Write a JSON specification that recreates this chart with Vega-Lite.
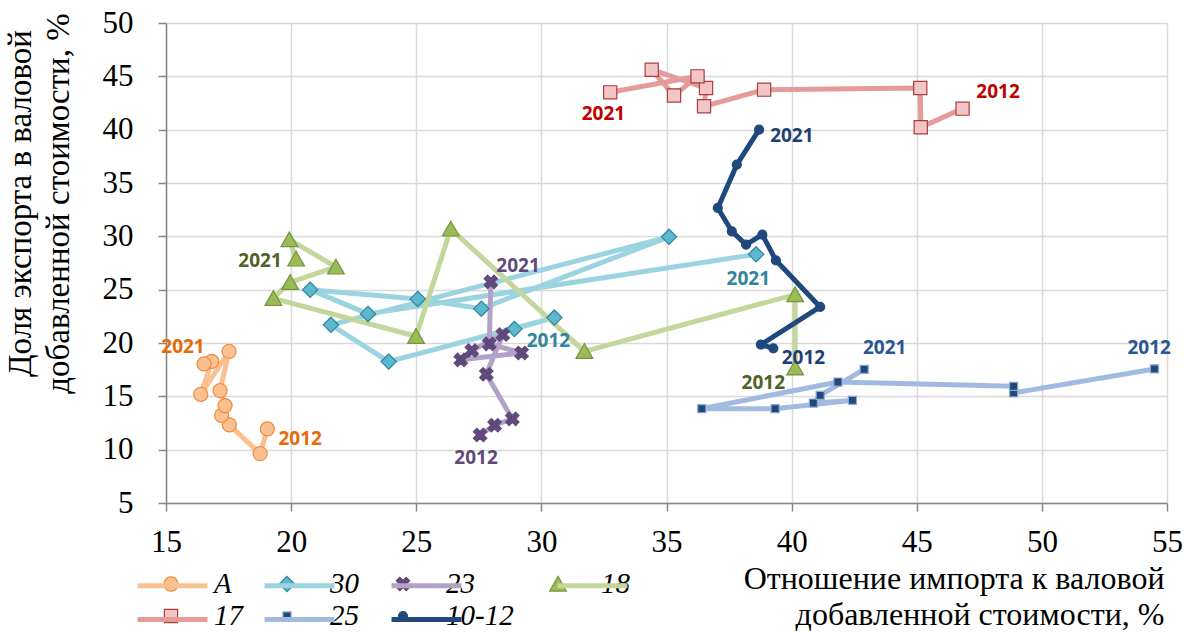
{
  "$schema": "https://vega.github.io/schema/vega-lite/v6.json",
  "width": 1001,
  "height": 480,
  "autosize": {"type": "none"},
  "padding": {"left": 166, "top": 23, "right": 19, "bottom": 129},
  "background": "white",
  "config": {
    "view": {"stroke": null},
    "axis": {
      "labelFont": "Liberation Serif", "labelFontSize": 31, "labelColor": "#000000",
      "titleFont": "Liberation Serif", "titleFontWeight": "normal", "titleColor": "#000000",
      "grid": true, "gridColor": "#D9D9D9", "gridWidth": 1.5,
      "domainColor": "#868686", "domainWidth": 1.5,
      "tickColor": "#868686", "tickSize": 8, "tickWidth": 1.5, "labelFlush": false
    },
    "axisX": {"labelPadding": 16},
    "axisY": {"labelPadding": 25},
    "legend": {
      "labelFont": "Liberation Serif", "labelFontStyle": "italic", "labelFontSize": 29, "labelColor": "#000000"
    }
  },
  "datasets": {
    "pts": [
      {"series": "A", "ord": 1, "year": 2012, "x": 19.05, "y": 11.95},
      {"series": "A", "ord": 1, "year": 2013, "x": 18.76, "y": 9.63},
      {"series": "A", "ord": 1, "year": 2014, "x": 17.53, "y": 12.32},
      {"series": "A", "ord": 1, "year": 2015, "x": 17.22, "y": 13.22},
      {"series": "A", "ord": 1, "year": 2016, "x": 17.36, "y": 14.13},
      {"series": "A", "ord": 1, "year": 2017, "x": 17.16, "y": 15.54},
      {"series": "A", "ord": 1, "year": 2018, "x": 17.52, "y": 19.22},
      {"series": "A", "ord": 1, "year": 2019, "x": 16.39, "y": 15.19},
      {"series": "A", "ord": 1, "year": 2020, "x": 16.83, "y": 18.28},
      {"series": "A", "ord": 1, "year": 2021, "x": 16.52, "y": 18.04},
      {"series": "30", "ord": 2, "year": 2012, "x": 28.92, "y": 21.32},
      {"series": "30", "ord": 2, "year": 2013, "x": 30.52, "y": 22.38},
      {"series": "30", "ord": 2, "year": 2014, "x": 23.9, "y": 18.26},
      {"series": "30", "ord": 2, "year": 2015, "x": 21.59, "y": 21.7},
      {"series": "30", "ord": 2, "year": 2016, "x": 35.1, "y": 29.95},
      {"series": "30", "ord": 2, "year": 2017, "x": 27.6, "y": 23.22},
      {"series": "30", "ord": 2, "year": 2018, "x": 25.06, "y": 24.13},
      {"series": "30", "ord": 2, "year": 2019, "x": 20.76, "y": 25.0},
      {"series": "30", "ord": 2, "year": 2020, "x": 23.07, "y": 22.73},
      {"series": "30", "ord": 2, "year": 2021, "x": 38.58, "y": 28.31},
      {"series": "23", "ord": 3, "year": 2012, "x": 27.55, "y": 11.38},
      {"series": "23", "ord": 3, "year": 2013, "x": 28.13, "y": 12.29},
      {"series": "23", "ord": 3, "year": 2014, "x": 28.84, "y": 12.89},
      {"series": "23", "ord": 3, "year": 2015, "x": 27.8, "y": 17.07},
      {"series": "23", "ord": 3, "year": 2016, "x": 28.46, "y": 20.79},
      {"series": "23", "ord": 3, "year": 2017, "x": 27.22, "y": 19.29},
      {"series": "23", "ord": 3, "year": 2018, "x": 26.78, "y": 18.42},
      {"series": "23", "ord": 3, "year": 2019, "x": 29.21, "y": 19.07},
      {"series": "23", "ord": 3, "year": 2020, "x": 27.92, "y": 19.92},
      {"series": "23", "ord": 3, "year": 2021, "x": 27.98, "y": 25.73},
      {"series": "18", "ord": 4, "year": 2012, "x": 40.14, "y": 17.67},
      {"series": "18", "ord": 4, "year": 2013, "x": 40.14, "y": 24.54},
      {"series": "18", "ord": 4, "year": 2014, "x": 31.72, "y": 19.22},
      {"series": "18", "ord": 4, "year": 2015, "x": 26.38, "y": 30.69},
      {"series": "18", "ord": 4, "year": 2016, "x": 24.99, "y": 20.63},
      {"series": "18", "ord": 4, "year": 2017, "x": 19.29, "y": 24.19},
      {"series": "18", "ord": 4, "year": 2018, "x": 19.96, "y": 25.69},
      {"series": "18", "ord": 4, "year": 2019, "x": 21.79, "y": 27.13},
      {"series": "18", "ord": 4, "year": 2020, "x": 19.93, "y": 29.69},
      {"series": "18", "ord": 4, "year": 2021, "x": 20.2, "y": 27.88},
      {"series": "17", "ord": 5, "year": 2012, "x": 46.83, "y": 41.97},
      {"series": "17", "ord": 5, "year": 2013, "x": 45.16, "y": 40.22},
      {"series": "17", "ord": 5, "year": 2014, "x": 45.14, "y": 43.9},
      {"series": "17", "ord": 5, "year": 2015, "x": 38.9, "y": 43.75},
      {"series": "17", "ord": 5, "year": 2016, "x": 36.5, "y": 42.19},
      {"series": "17", "ord": 5, "year": 2017, "x": 36.58, "y": 43.9},
      {"series": "17", "ord": 5, "year": 2018, "x": 34.41, "y": 45.62},
      {"series": "17", "ord": 5, "year": 2019, "x": 35.3, "y": 43.2},
      {"series": "17", "ord": 5, "year": 2020, "x": 36.24, "y": 45.0},
      {"series": "17", "ord": 5, "year": 2021, "x": 32.75, "y": 43.5},
      {"series": "25", "ord": 6, "year": 2012, "x": 54.5, "y": 17.57},
      {"series": "25", "ord": 6, "year": 2013, "x": 48.87, "y": 15.32},
      {"series": "25", "ord": 6, "year": 2014, "x": 48.87, "y": 15.94},
      {"series": "25", "ord": 6, "year": 2015, "x": 41.85, "y": 16.34},
      {"series": "25", "ord": 6, "year": 2016, "x": 36.41, "y": 13.84},
      {"series": "25", "ord": 6, "year": 2017, "x": 39.34, "y": 13.84},
      {"series": "25", "ord": 6, "year": 2018, "x": 42.43, "y": 14.62},
      {"series": "25", "ord": 6, "year": 2019, "x": 40.87, "y": 14.37},
      {"series": "25", "ord": 6, "year": 2020, "x": 41.14, "y": 15.09},
      {"series": "25", "ord": 6, "year": 2021, "x": 42.9, "y": 17.53},
      {"series": "10-12", "ord": 7, "year": 2012, "x": 39.27, "y": 19.5},
      {"series": "10-12", "ord": 7, "year": 2013, "x": 38.77, "y": 19.85},
      {"series": "10-12", "ord": 7, "year": 2014, "x": 41.14, "y": 23.38},
      {"series": "10-12", "ord": 7, "year": 2015, "x": 39.37, "y": 27.75},
      {"series": "10-12", "ord": 7, "year": 2016, "x": 38.83, "y": 30.16},
      {"series": "10-12", "ord": 7, "year": 2017, "x": 38.18, "y": 29.22},
      {"series": "10-12", "ord": 7, "year": 2018, "x": 37.61, "y": 30.47},
      {"series": "10-12", "ord": 7, "year": 2019, "x": 37.05, "y": 32.66},
      {"series": "10-12", "ord": 7, "year": 2020, "x": 37.81, "y": 36.72},
      {"series": "10-12", "ord": 7, "year": 2021, "x": 38.7, "y": 40.0}
    ],
    "labels": [
      {"series": "A", "label": "2021", "lx": 15.68, "ly": 19.66},
      {"series": "A", "label": "2012", "lx": 20.36, "ly": 10.99},
      {"series": "30", "label": "2021", "lx": 38.27, "ly": 26.02},
      {"series": "30", "label": "2012", "lx": 30.28, "ly": 20.16},
      {"series": "23", "label": "2021", "lx": 29.07, "ly": 27.19},
      {"series": "23", "label": "2012", "lx": 27.39, "ly": 9.26},
      {"series": "18", "label": "2021", "lx": 18.76, "ly": 27.66},
      {"series": "18", "label": "2012", "lx": 38.87, "ly": 16.26},
      {"series": "17", "label": "2021", "lx": 32.48, "ly": 41.48},
      {"series": "17", "label": "2012", "lx": 48.25, "ly": 43.56},
      {"series": "25", "label": "2021", "lx": 43.72, "ly": 19.57},
      {"series": "25", "label": "2012", "lx": 54.29, "ly": 19.57},
      {"series": "10-12", "label": "2021", "lx": 40.01, "ly": 39.37},
      {"series": "10-12", "label": "2012", "lx": 40.47, "ly": 18.6}
    ]
  },
  "layer": [
    {
      "data": {"name": "pts"},
      "mark": {"type": "line", "strokeCap": "round", "strokeJoin": "round"},
      "encoding": {
        "x": {
          "field": "x", "type": "quantitative",
          "scale": {"domain": [15, 55], "nice": false, "zero": false},
          "axis": {
            "values": [15, 20, 25, 30, 35, 40, 45, 50, 55],
            "title": ["Отношение импорта к валовой", "добавленной стоимости, %"],
            "titleFontSize": 32, "titleLineHeight": 36,
            "titleAnchor": "end", "titleAlign": "right", "titleBaseline": "middle",
            "titleX": 998, "titleY": 75
          }
        },
        "y": {
          "field": "y", "type": "quantitative",
          "scale": {"domain": [5, 50], "nice": false, "zero": false},
          "axis": {
            "values": [5, 10, 15, 20, 25, 30, 35, 40, 45, 50],
            "title": ["Доля экспорта в валовой", "добавленной стоимости, %"],
            "titleFontSize": 33, "titleLineHeight": 38,
            "titleAngle": -90, "titleAlign": "center", "titleBaseline": "middle",
            "titleX": -146, "titleY": 180
          }
        },
        "order": {"field": "year", "type": "quantitative"},
        "color": {
          "field": "series", "type": "nominal",
          "scale": {
            "domain": ["A", "30", "23", "18", "17", "25", "10-12"],
            "range": ["#FAC090", "#9BD3E0", "#B3A2C7", "#C3D69B", "#E39B9B", "#A2BAE0", "#1F497D"]
          },
          "legend": {
            "orient": "none", "legendX": -31, "legendY": 545,
            "direction": "horizontal", "columns": 4, "title": null, "gridAlign": "each",
            "symbolType": "M-2.33,0H2.33", "symbolSize": 900, "symbolStrokeWidth": 5, "symbolOffset": 20,
            "labelOpacity": 0, "labelOffset": 27,
            "columnPadding": 8, "rowPadding": 1
          }
        },
        "strokeWidth": {
          "field": "series", "type": "nominal",
          "scale": {
            "domain": ["A", "30", "23", "18", "17", "25", "10-12"],
            "range": [5, 5, 5, 5, 5, 5, 3]
          },
          "legend": null
        }
      }
    },
    {
      "data": {"name": "pts"},
      "mark": {"type": "point", "filled": true, "opacity": 1, "size": 900, "strokeWidth": 1.2},
      "encoding": {
        "x": {"field": "x", "type": "quantitative"},
        "y": {"field": "y", "type": "quantitative"},
        "fill": {
          "field": "series", "type": "nominal", "sort": {"field": "ord", "op": "min"},
          "scale": {"range": ["#FAC090", "#5BB8CE", "#604A7B", "#9BBB59", "#F2C6C5", "#1F497D", "#1F497D"]},
          "legend": {
            "orient": "none", "legendX": -31, "legendY": 545,
            "direction": "horizontal", "columns": 4, "title": null, "gridAlign": "each",
            "symbolSize": 900, "symbolStrokeWidth": 1.2, "symbolOffset": 20,
            "labelOffset": 27, "columnPadding": 8, "rowPadding": 1
          }
        },
        "stroke": {
          "field": "series", "type": "nominal", "sort": {"field": "ord", "op": "min"},
          "scale": {"range": ["#F08A3C", "#31859C", "#604A7B", "#77933C", "#A83E3E", "#8EA9D1", "#1F497D"]},
          "legend": {
            "orient": "none", "legendX": -31, "legendY": 545,
            "direction": "horizontal", "columns": 4, "title": null, "gridAlign": "each",
            "symbolSize": 900, "symbolStrokeWidth": 1.2, "symbolOffset": 20,
            "labelOffset": 27, "columnPadding": 8, "rowPadding": 1
          }
        },
        "shape": {
          "field": "series", "type": "nominal", "sort": {"field": "ord", "op": "min"},
          "scale": {"range": [
            "M-0.47,0A0.47,0.47,0,1,1,0.47,0A0.47,0.47,0,1,1,-0.47,0Z",
            "M0,-0.51L0.51,0L0,0.51L-0.51,0Z",
            "M0.215,-0.446L0.446,-0.215L0.231,0L0.446,0.215L0.215,0.446L0,0.231L-0.215,0.446L-0.446,0.215L-0.231,0L-0.446,-0.215L-0.215,-0.446L0,-0.231Z",
            "M0,-0.51L0.56,0.47L-0.56,0.47Z",
            "M-0.44,-0.44H0.44V0.44H-0.44Z",
            "M-0.27,-0.27H0.27V0.27H-0.27Z",
            "M-0.3,0A0.3,0.3,0,1,1,0.3,0A0.3,0.3,0,1,1,-0.3,0Z"
          ]},
          "legend": {
            "orient": "none", "legendX": -31, "legendY": 545,
            "direction": "horizontal", "columns": 4, "title": null, "gridAlign": "each",
            "symbolSize": 900, "symbolStrokeWidth": 1.2, "symbolOffset": 20,
            "labelOffset": 27, "columnPadding": 8, "rowPadding": 1
          }
        }
      }
    },
    {
      "data": {"name": "labels"},
      "mark": {"type": "text", "font": "Open Sans", "fontWeight": "bold", "fontSize": 19, "align": "center", "baseline": "middle"},
      "encoding": {
        "x": {"field": "lx", "type": "quantitative"},
        "y": {"field": "ly", "type": "quantitative"},
        "text": {"field": "label", "type": "nominal"},
        "color": {
          "field": "series", "type": "nominal",
          "scale": {
            "domain": ["A", "30", "23", "18", "17", "25", "10-12"],
            "range": ["#E46C0A", "#31859C", "#604A7B", "#4F6228", "#C00000", "#2C5593", "#1F3F73"]
          },
          "legend": null
        }
      }
    }
  ],
  "resolve": {"scale": {"color": "independent"}}
}
